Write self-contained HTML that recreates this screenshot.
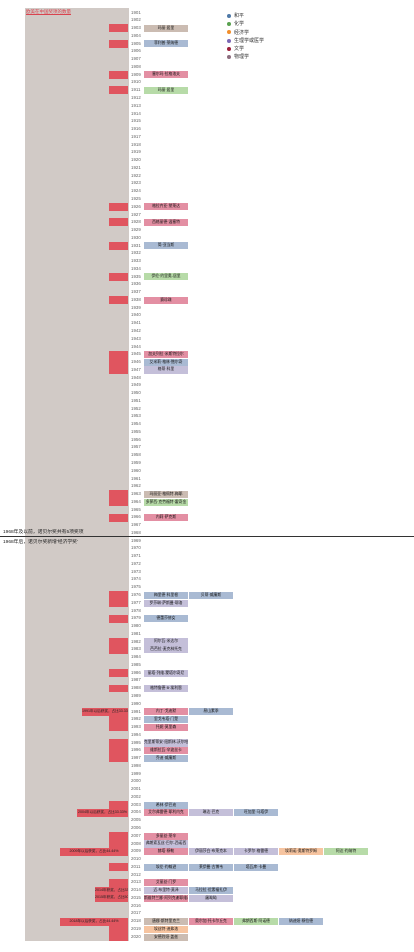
<!DOCTYPE html>
<html><head><meta charset="utf-8"><style>
body{margin:0;width:414px;height:952px;background:#fff;position:relative;overflow:hidden;font-family:"Liberation Sans","Noto Sans CJK SC",sans-serif}
.a{position:absolute}
.g{background:#d1cac6}
.r{position:absolute;left:109px;width:19px;height:7.9px;background:#e0555f}
.w{position:absolute;height:7.9px;background:#e0555f;font-size:3.6px;color:#222;line-height:7.9px;text-align:center;white-space:nowrap;overflow:hidden}
.b{position:absolute;width:44px;height:7.2px;font-size:3.8px;line-height:7.2px;text-align:center;color:#111;white-space:nowrap;overflow:hidden}
.P{background:#a9bad3}.C{background:#b7dba8}.E{background:#f6c4a0}.M{background:#c4bfd9}.L{background:#e38fa3}.T{background:#cbbcb2}
.yr{position:absolute;left:131px;top:8.6px;font-size:4.4px;line-height:7.77px;color:#666}
.lg{position:absolute;left:227px;font-size:5px;color:#333;line-height:8.3px}
.lg span{display:inline-block;width:4px;height:4px;border-radius:50%;margin-right:3px;vertical-align:middle}
</style></head><body>
<div class="a g" style="left:25px;top:8px;width:104px;height:933px"></div>
<div class="a" style="left:26px;top:9px;font-size:4.5px;color:#d9434f;text-decoration:underline">欧美在中国奖项的数量</div>

<div class="r" style="top:24.1px"></div><div class="r" style="top:39.7px"></div><div class="r" style="top:70.8px"></div><div class="r" style="top:86.3px"></div>
<div class="r" style="top:202.9px"></div><div class="r" style="top:218.4px"></div><div class="r" style="top:241.7px"></div><div class="r" style="top:272.8px"></div><div class="r" style="top:296.1px"></div>
<div class="r" style="top:350.5px;height:23.4px"></div>
<div class="r" style="top:490.3px;height:15.6px"></div><div class="r" style="top:513.7px"></div>
<div class="r" style="top:591.4px;height:15.6px"></div><div class="r" style="top:614.7px"></div><div class="r" style="top:638px;height:15.6px"></div><div class="r" style="top:669.1px"></div><div class="r" style="top:684.6px"></div>
<div class="r" style="top:707.9px;height:23.4px"></div><div class="r" style="top:739px;height:23.4px"></div>
<div class="r" style="top:801.1px;height:15.6px"></div><div class="r" style="top:832.2px;height:23.4px"></div><div class="r" style="top:863.3px"></div><div class="r" style="top:878.8px;height:23.4px"></div><div class="r" style="top:917.7px;height:23.4px"></div>
<div class="w" style="left:82px;width:46px;top:707.9px">1991年以后获奖，占比33.33%</div>
<div class="w" style="left:77px;width:51px;top:809px">2004年以后获奖，占比33.33%</div>
<div class="w" style="left:60px;width:68px;top:847.8px">2009年以后获奖，占比44.44%</div>
<div class="w" style="left:95px;width:33px;top:886.6px">2014年获奖，占比33.3%</div>
<div class="w" style="left:95px;width:33px;top:894.4px">2015年获奖，占比50%</div>
<div class="w" style="left:60px;width:68px;top:917.7px">2018年以后获奖，占比44.44%</div>

<div class="yr">1901<br>1902<br>1903<br>1904<br>1905<br>1906<br>1907<br>1908<br>1909<br>1910<br>1911<br>1912<br>1913<br>1914<br>1915<br>1916<br>1917<br>1918<br>1919<br>1920<br>1921<br>1922<br>1923<br>1924<br>1925<br>1926<br>1927<br>1928<br>1929<br>1930<br>1931<br>1932<br>1933<br>1934<br>1935<br>1936<br>1937<br>1938<br>1939<br>1940<br>1941<br>1942<br>1943<br>1944<br>1945<br>1946<br>1947<br>1948<br>1949<br>1950<br>1951<br>1952<br>1953<br>1954<br>1955<br>1956<br>1957<br>1958<br>1959<br>1960<br>1961<br>1962<br>1963<br>1964<br>1965<br>1966<br>1967<br>1968<br>1969<br>1970<br>1971<br>1972<br>1973<br>1974<br>1975<br>1976<br>1977<br>1978<br>1979<br>1980<br>1981<br>1982<br>1983<br>1984<br>1985<br>1986<br>1987<br>1988<br>1989<br>1990<br>1991<br>1992<br>1993<br>1994<br>1995<br>1996<br>1997<br>1998<br>1999<br>2000<br>2001<br>2002<br>2003<br>2004<br>2005<br>2006<br>2007<br>2008<br>2009<br>2010<br>2011<br>2012<br>2013<br>2014<br>2015<br>2016<br>2017<br>2018<br>2019<br>2020</div>

<div class="b T" style="left:144px;top:24.5px">玛丽·居里</div>
<div class="b P" style="left:144px;top:40.1px">菲利普·莱纳德</div>
<div class="b L" style="left:144px;top:71.2px">塞尔玛·拉格洛夫</div>
<div class="b C" style="left:144px;top:86.7px">玛丽·居里</div>
<div class="b L" style="left:144px;top:203.3px">格拉齐亚·黛莱达</div>
<div class="b L" style="left:144px;top:218.8px">西格丽德·温塞特</div>
<div class="b P" style="left:144px;top:242.1px">简·亚当斯</div>
<div class="b C" style="left:144px;top:273.2px">伊伦·约里奥-居里</div>
<div class="b L" style="left:144px;top:296.5px">赛珍珠</div>
<div class="b L" style="left:144px;top:350.9px">加夫列拉·米斯特拉尔</div>
<div class="b P" style="left:144px;top:358.7px">艾米莉·格林·鲍尔奇</div>
<div class="b M" style="left:144px;top:366.4px">格蒂·科里</div>
<div class="b T" style="left:144px;top:490.7px">玛丽亚·格佩特-梅耶</div>
<div class="b C" style="left:144px;top:498.5px">多萝西·克劳福特·霍奇金</div>
<div class="b L" style="left:144px;top:514.1px">内莉·萨克斯</div>
<div class="b P" style="left:144px;top:591.8px">梅里德·科里根</div><div class="b P" style="left:189px;top:591.8px">贝蒂·威廉斯</div>
<div class="b M" style="left:144px;top:599.5px">罗莎琳·萨斯曼·耶洛</div>
<div class="b P" style="left:144px;top:615.1px">德蕾莎修女</div>
<div class="b M" style="left:144px;top:638.4px">阿尔瓦·米达尔</div>
<div class="b M" style="left:144px;top:646.1px">芭芭拉·麦克林托克</div>
<div class="b M" style="left:144px;top:669.5px">丽塔·列维-蒙塔尔奇尼</div>
<div class="b M" style="left:144px;top:685px">格特鲁德·B·埃利恩</div>
<div class="b L" style="left:144px;top:708.3px">内丁·戈迪默</div><div class="b P" style="left:189px;top:708.3px">昂山素季</div>
<div class="b P" style="left:144px;top:716.1px">里戈韦塔·门楚</div>
<div class="b L" style="left:144px;top:723.8px">托妮·莫里森</div>
<div class="b M" style="left:144px;top:739.4px">克里斯蒂安·纽斯林-沃尔哈德</div>
<div class="b L" style="left:144px;top:747.2px">维斯拉瓦·辛波丝卡</div>
<div class="b P" style="left:144px;top:754.9px">乔迪·威廉斯</div>
<div class="b P" style="left:144px;top:801.5px">希林·伊巴迪</div>
<div class="b L" style="left:144px;top:809.3px">艾尔弗雷德·耶利内克</div><div class="b M" style="left:189px;top:809.3px">琳达·巴克</div><div class="b P" style="left:234px;top:809.3px">旺加里·马塔伊</div>
<div class="b L" style="left:144px;top:832.6px">多丽丝·莱辛</div>
<div class="b M" style="left:144px;top:840.4px">弗朗索瓦丝·巴尔-西诺西</div>
<div class="b L" style="left:144px;top:848.2px">赫塔·穆勒</div><div class="b M" style="left:189px;top:848.2px">伊丽莎白·布莱克本</div><div class="b M" style="left:234px;top:848.2px">卡罗尔·格雷德</div><div class="b E" style="left:279px;top:848.2px">埃莉诺·奥斯特罗姆</div><div class="b C" style="left:324px;top:848.2px">阿达·约纳特</div>
<div class="b P" style="left:144px;top:863.7px">埃伦·约翰逊</div><div class="b P" style="left:189px;top:863.7px">莱伊曼·古博韦</div><div class="b P" style="left:234px;top:863.7px">塔瓦库·卡曼</div>
<div class="b L" style="left:144px;top:879.2px">艾丽丝·门罗</div>
<div class="b M" style="left:144px;top:887px">迈-布里特·莫泽</div><div class="b P" style="left:189px;top:887px">马拉拉·优素福扎伊</div>
<div class="b L" style="left:144px;top:894.8px">斯维特兰娜·阿列克谢耶维奇</div><div class="b M" style="left:189px;top:894.8px">屠呦呦</div>
<div class="b T" style="left:144px;top:918.1px">唐娜·斯特里克兰</div><div class="b L" style="left:189px;top:918.1px">奥尔加·托卡尔丘克</div><div class="b C" style="left:234px;top:918.1px">弗朗西斯·阿诺德</div><div class="b P" style="left:279px;top:918.1px">纳迪娅·穆拉德</div>
<div class="b E" style="left:144px;top:925.9px">埃丝特·迪弗洛</div>
<div class="b T" style="left:144px;top:933.6px">安德烈娅·盖兹</div>

<div class="a" style="left:0;top:535.5px;width:414px;height:1px;background:#333"></div>
<div class="a" style="left:3px;top:528px;font-size:4.8px;color:#222">1968年及以前，诺贝尔奖共有5项奖项</div>
<div class="a" style="left:3px;top:538px;font-size:4.8px;color:#222">1968年后，诺贝尔奖新增'经济学奖'</div>

<div class="lg" style="top:12px"><span style="background:#4e79a7"></span>和平<br><span style="background:#59a14f"></span>化学<br><span style="background:#f28e2b"></span>经济学<br><span style="background:#7b68b5"></span>生理学或医学<br><span style="background:#9c1f3a"></span>文学<br><span style="background:#8c6d7e"></span>物理学</div>
</body></html>
